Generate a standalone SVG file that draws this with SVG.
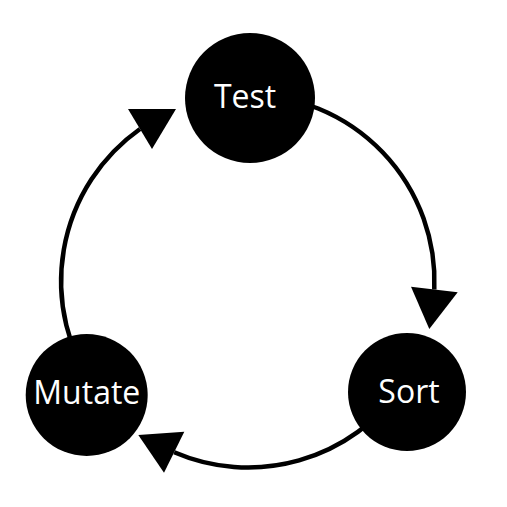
<svg xmlns="http://www.w3.org/2000/svg" width="507" height="507" viewBox="0 0 507 507">
<style>
.conn{fill:none;stroke:#000;stroke-width:4.5}
.head{fill:#000;stroke:none}
.node{fill:#000}
.lbl{fill:#fff;font-family:"Open Sans","Noto Sans",sans-serif;font-size:32px;text-anchor:middle}
</style>
<rect width="507" height="507" fill="#fff"/>
<g id="connectors">
<path class="conn" d="M 247.8 94.7 A 186.7 186.7 0 0 1 434.3 289.5"/>
<polygon class="head" points="411,286.7 457.7,292.3 429.3,329"/>
<path class="conn" d="M 401.1 388 A 186.7 186.7 0 0 1 174.2 452.2"/>
<polygon class="head" points="138.3,435 184.3,431.7 164,472.7"/>
<path class="conn" d="M 95.2 389 A 186.7 186.7 0 0 1 140 129"/>
<polygon class="head" points="128,109 176,109 152,149"/>
</g>
<g id="node-test">
<circle class="node" cx="250" cy="98" r="65"/>
<text class="lbl" x="245" y="107.7">Test</text>
</g>
<g id="node-sort">
<circle class="node" cx="407" cy="392" r="59"/>
<text class="lbl" x="409" y="402.7">Sort</text>
</g>
<g id="node-mutate">
<circle class="node" cx="86.7" cy="395" r="61"/>
<text class="lbl" x="86.8" y="403.7">Mutate</text>
</g>
</svg>
